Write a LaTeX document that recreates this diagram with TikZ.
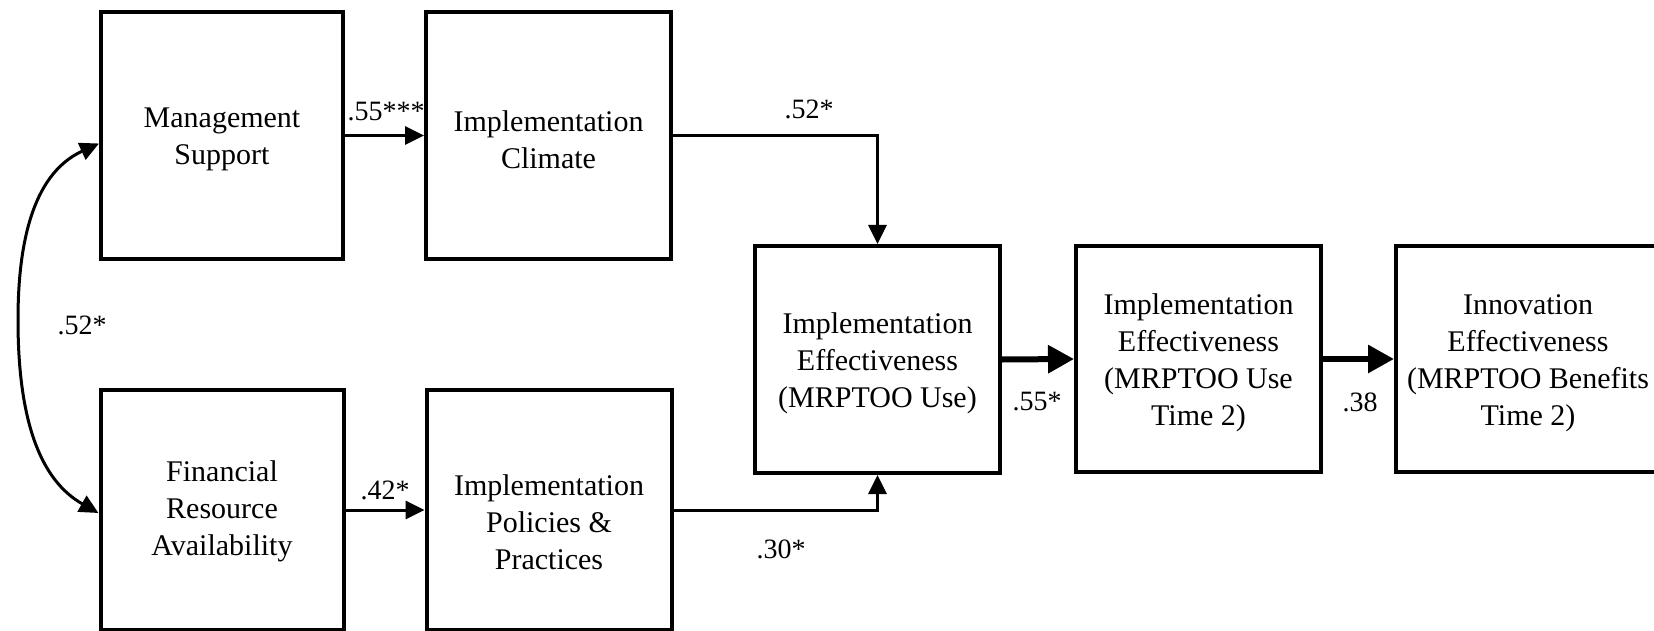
\documentclass[tikz,border=0pt]{standalone}
\usepackage{fontspec}
\setmainfont{Liberation Serif}
\usetikzlibrary{arrows.meta}
\begin{document}
\begin{tikzpicture}[x=1pt,y=-1pt,
  box/.style={draw,line width=4pt,inner sep=0pt},
  txt/.style={inner sep=0pt,align=center,font=\fontsize{30}{37}\selectfont},
  lbl/.style={inner sep=0pt,font=\fontsize{28}{32}\selectfont},
  link/.style={line width=3pt,-{Triangle[length=19pt,width=18pt]}},
  thicklink/.style={line width=6pt,-{Triangle[length=26pt,width=27pt]}}]
\useasboundingbox[fill=white] (0,0) rectangle (1654,631);

% constructs
\node[box,minimum width=242pt,minimum height=247pt] (ms) at (222,135.5) {};
\node[box,minimum width=245pt,minimum height=247pt] (ic) at (548.5,135.5) {};
\node[box,minimum width=243pt,minimum height=240pt] (fra) at (222,510) {};
\node[box,minimum width=245pt,minimum height=240pt] (ipp) at (549,510) {};
\node[box,minimum width=245pt,minimum height=227pt] (ie) at (877.5,359.5) {};
\node[box,minimum width=245pt,minimum height=226pt] (ie2) at (1198.5,359) {};
\node[box,minimum width=264pt,minimum height=226pt] (inn) at (1528,359) {};

% construct names
\node[txt] (mst) at ([yshift=-4pt]ms.center) {Management\\Support};
\node[txt] (ict) at ([yshift=-4pt]ic.center) {Implementation\\Climate};
\node[txt] (frat) at ([yshift=-1pt]fra.center) {Financial\\Resource\\Availability};
\node[txt] (ippt) at ([yshift=-12pt]ipp.center) {Implementation\\Policies \&\\Practices};
\node[txt] (iet) at ([yshift=-4pt]ie.center) {Implementation\\Effectiveness\\(MRPTOO Use)};
\node[txt] (ie2t) at ([yshift=-4pt]ie2.center) {Implementation\\Effectiveness\\(MRPTOO Use\\Time 2)};
\node[txt] (innt) at ([yshift=-4pt]inn.center) {Innovation\\Effectiveness\\(MRPTOO Benefits\\Time 2)};

% paths
\draw[link] (ms.east) -- (ic.west);
\draw[link] (fra.east) -- (ipp.west);
\draw[link] (ic.east) -| (ie.north);
\draw[link] (ipp.east) -| (ie.south);
\draw[thicklink] (ie.east) -- (ie2.west);
\draw[thicklink] (ie2.east) -- (inn.west);

% correlation between the two antecedents
\coordinate (cTop) at ([yshift=-8pt]ms.west);
\coordinate (cBot) at ([yshift=-3pt]fra.west);
\draw[line width=3pt,{Triangle[length=19pt,width=18pt]}-{Triangle[length=19pt,width=18pt]}]
  (cTop) .. controls (30,175) and (18,250) .. (18,320)
         .. controls (18,420) and (40,480) .. (cBot);

% coefficients
\node[lbl] (l1) at (386,112) {.55***};
\node[lbl] (l2) at (385,490) {.42*};
\node[lbl] (l3) at (809,109) {.52*};
\node[lbl] (l4) at (781,549) {.30*};
\node[lbl] (l5) at (1037,402) {.55*};
\node[lbl] (l6) at (1360,402) {.38};
\node[lbl] (l7) at (82,325) {.52*};
\end{tikzpicture}
\end{document}
